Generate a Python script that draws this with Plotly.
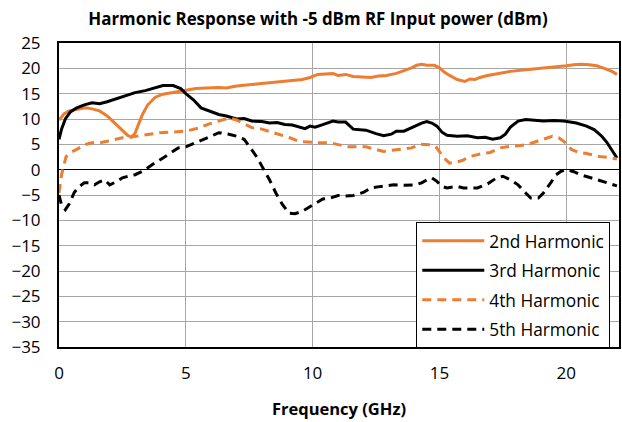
import plotly.graph_objects as go

# ---- data ----
f2 = [0, 0.2, 0.4, 0.7, 1.05, 1.3, 1.6, 1.9, 2.1, 2.3, 2.5, 2.7, 2.85, 3.0, 3.1, 3.3, 3.5, 3.8, 4.1, 4.5,
      4.8, 5.0, 5.4, 5.8, 6.3, 6.6, 7.0, 7.6, 8.0, 8.5, 8.9, 9.3, 9.6, 9.9, 10.2, 10.5, 10.8, 11.0, 11.3, 11.6,
      12.0, 12.3, 12.6, 12.9, 13.3, 13.6, 13.9, 14.1, 14.3, 14.5, 14.8, 15.0, 15.2, 15.4, 15.7, 16.0, 16.2, 16.4,
      16.6, 16.9, 17.3, 17.8, 18.4, 19.1, 19.6, 20.0, 20.3, 20.6, 20.9, 21.2, 21.5, 21.8, 22.0]
h2 = [9.8, 11.0, 11.6, 11.9, 12.2, 12.0, 11.6, 10.6, 9.6, 8.6, 7.6, 6.8, 6.4, 7.2, 8.5, 11.0, 12.8, 14.3, 14.9, 15.2,
      15.5, 15.6, 16.0, 16.1, 16.2, 16.1, 16.5, 16.8, 17.0, 17.2, 17.5, 17.6, 17.8, 18.2, 18.8, 18.9, 19.0, 18.6, 18.8, 18.4,
      18.3, 18.2, 18.5, 18.6, 19.0, 19.5, 20.1, 20.6, 20.8, 20.6, 20.6, 20.1, 19.2, 18.6, 17.8, 17.4, 17.9, 17.8,
      18.2, 18.6, 19.0, 19.4, 19.7, 20.0, 20.2, 20.5, 20.7, 20.8, 20.7, 20.5, 20.0, 19.4, 18.8]

f3 = [0, 0.1, 0.25, 0.45, 0.7, 1.0, 1.3, 1.6, 1.9, 2.3, 2.7, 3.0, 3.4, 3.8, 4.1, 4.5, 4.8, 5.0, 5.3, 5.6,
      5.9, 6.3, 6.6, 7.0, 7.3, 7.6, 8.0, 8.3, 8.6, 8.9, 9.2, 9.5, 9.7, 9.9, 10.1, 10.4, 10.8, 11.0, 11.3, 11.6,
      12.1, 12.5, 12.8, 13.1, 13.3, 13.6, 14.0, 14.3, 14.5, 14.7, 14.9, 15.1, 15.3, 15.7, 16.1, 16.5, 16.8, 17.1,
      17.4, 17.6, 17.8, 18.1, 18.4, 18.8, 19.1, 19.5, 19.9, 20.4, 20.8, 21.1, 21.4, 21.6, 21.8, 22.0]
h3 = [6.0, 8.0, 10.0, 11.4, 12.2, 12.8, 13.2, 13.0, 13.4, 14.0, 14.6, 15.2, 15.6, 16.2, 16.6, 16.6, 16.0, 15.0, 13.8, 12.2,
      11.6, 10.9, 10.6, 10.0, 10.1, 9.6, 9.5, 9.2, 9.3, 8.9, 8.8, 8.4, 8.1, 8.6, 8.4, 8.9, 9.6, 9.4, 9.4, 8.0,
      7.8, 7.1, 6.7, 7.0, 7.6, 7.6, 8.6, 9.2, 9.5, 9.2, 8.6, 7.4, 6.8, 6.6, 6.7, 6.3, 6.4, 6.0,
      6.3, 7.0, 8.4, 9.6, 9.9, 9.8, 9.6, 9.7, 9.6, 9.2, 8.6, 7.9, 6.6, 5.4, 3.8, 2.3]

f4 = [0, 0.1, 0.28, 0.5, 0.7, 1.0, 1.3, 1.6, 1.9, 2.2, 2.5, 2.9, 3.2, 3.6, 4.0, 4.5, 5.0, 5.5, 5.9, 6.3,
      6.7, 7.0, 7.3, 7.6, 8.0, 8.4, 8.7, 9.1, 9.45, 9.8, 10.2, 10.7, 11.0, 11.4, 11.8, 12.1, 12.5, 12.8, 13.1, 13.5,
      13.9, 14.25, 14.6, 14.85, 15.0, 15.2, 15.4, 15.6, 15.9, 16.2, 16.7, 17.0, 17.4, 17.8, 18.2, 18.5, 18.85, 19.2,
      19.45, 19.7, 19.9, 20.2, 20.5, 20.8, 21.3, 21.7, 22.0]
h4 = [-4.6, -1.0, 2.6, 3.5, 4.0, 4.9, 5.3, 5.3, 5.6, 6.0, 6.3, 6.5, 6.7, 7.0, 7.3, 7.4, 7.6, 8.2, 9.0, 9.6,
      10.2, 9.8, 9.0, 8.3, 8.0, 7.4, 6.9, 6.3, 5.6, 5.4, 5.3, 5.3, 4.9, 4.5, 4.5, 4.5, 4.0, 3.6, 3.8, 4.0,
      4.3, 5.0, 4.9, 4.6, 3.6, 2.2, 1.3, 1.4, 1.8, 2.6, 3.2, 3.4, 4.3, 4.6, 4.75, 5.0, 5.6, 6.2,
      6.6, 6.3, 5.6, 4.0, 3.4, 3.2, 2.6, 2.4, 2.1]

f5 = [0, 0.1, 0.25, 0.4, 0.6, 0.8, 1.0, 1.2, 1.4, 1.6, 1.8, 2.0, 2.3, 2.5, 2.8, 3.0, 3.3, 3.55, 3.8, 4.1,
      4.4, 4.7, 5.0, 5.5, 6.0, 6.3, 6.7, 7.0, 7.3, 7.5, 7.8, 8.0, 8.3, 8.55, 8.8, 9.07, 9.3, 9.6, 9.9, 10.1,
      10.4, 10.7, 11.0, 11.3, 11.6, 12.0, 12.3, 12.7, 13.2, 13.6, 14.0, 14.3, 14.5, 14.7, 14.9, 15.1, 15.3, 15.7,
      15.95, 16.5, 16.9, 17.2, 17.5, 17.8, 18.1, 18.4, 18.6, 18.9, 19.1, 19.4, 19.6, 19.8, 20.0, 20.3, 20.55,
      20.9, 21.2, 21.6, 22.0]
h5 = [-5.0, -7.0, -7.9, -6.8, -4.5, -3.3, -2.6, -2.6, -3.0, -2.4, -2.0, -3.0, -2.3, -1.6, -1.2, -1.0, -0.3, 0.6, 1.4, 2.3,
      3.3, 4.3, 4.5, 5.5, 6.6, 7.3, 7.0, 6.6, 6.0, 4.6, 2.5, 0.7, -2.0, -4.6, -6.8, -8.6, -8.7, -8.2, -7.3, -6.8,
      -5.8, -5.6, -5.1, -5.2, -5.1, -4.5, -3.6, -3.3, -3.0, -3.1, -3.0, -2.6, -2.0, -1.6, -2.3, -3.3, -3.6, -3.3,
      -3.6, -3.6, -2.8, -1.8, -1.3, -2.0, -3.0, -4.6, -5.6, -5.6, -4.6, -2.5, -1.0, -0.3, 0.0, -0.4, -1.0,
      -1.5, -2.0, -2.6, -3.2]

names = ["2nd Harmonic", "3rd Harmonic", "4th Harmonic", "5th Harmonic"]
x_ticks = [0, 5, 10, 15, 20]
y_ticks = list(range(-35, 30, 5))

ORANGE = "#ED7D31"
BLACK = "#000000"
FONT = "Open Sans"

fig = go.Figure()
series = [(f2, h2, ORANGE, "solid"), (f3, h3, BLACK, "solid"),
          (f4, h4, ORANGE, "9px,6px"), (f5, h5, BLACK, "9px,6px")]
for (fx, hy, col, dash), nm in zip(series, names):
    fig.add_trace(go.Scatter(x=fx, y=hy, mode="lines", name=nm, legendgroup=nm,
                             line=dict(color=col, width=3, dash=dash)))

fig.update_layout(
    width=622, height=422,
    margin=dict(l=59, r=3, t=43, b=75),
    paper_bgcolor="white", plot_bgcolor="white",
    font=dict(family=FONT, size=17, color="#000"),
    title=dict(text="<b>Harmonic Response with -5 dBm RF Input power (dBm)</b>",
               x=318/622, xanchor="center", xref="container",
               y=1 - 19/422, yanchor="middle", yref="container",
               font=dict(family=FONT, size=16.9, color="#000")),
    showlegend=True,
    legend=dict(x=0.638, xanchor="left", y=0.411, yanchor="top",
                bgcolor="white", bordercolor="#000", borderwidth=1,
                font=dict(family=FONT, size=17.3, color="#000"),
                traceorder="grouped", tracegroupgap=4, itemwidth=62),
)
fig.update_xaxes(range=[0, 22.08], tickvals=x_ticks, ticks="", automargin=False,
                 showgrid=True, gridcolor="#a6a6a6", gridwidth=1,
                 showline=True, linecolor="#000", linewidth=2, mirror=True,
                 zeroline=False, ticklabelstandoff=10,
                 title=dict(text="<b>Frequency (GHz)</b>", standoff=20,
                            font=dict(family=FONT, size=16.5, color="#000")))
fig.update_yaxes(range=[-35, 25], tickvals=y_ticks, ticks="", automargin=False,
                 showgrid=True, gridcolor="#a6a6a6", gridwidth=1,
                 showline=True, linecolor="#000", linewidth=2, mirror=True,
                 zeroline=True, zerolinecolor="#000", zerolinewidth=1.2,
                 ticklabelstandoff=13)

fig.write_html("out.html", config={"displayModeBar": False},
               post_script="document.body.style.margin='0px';document.body.style.overflow='hidden';")
